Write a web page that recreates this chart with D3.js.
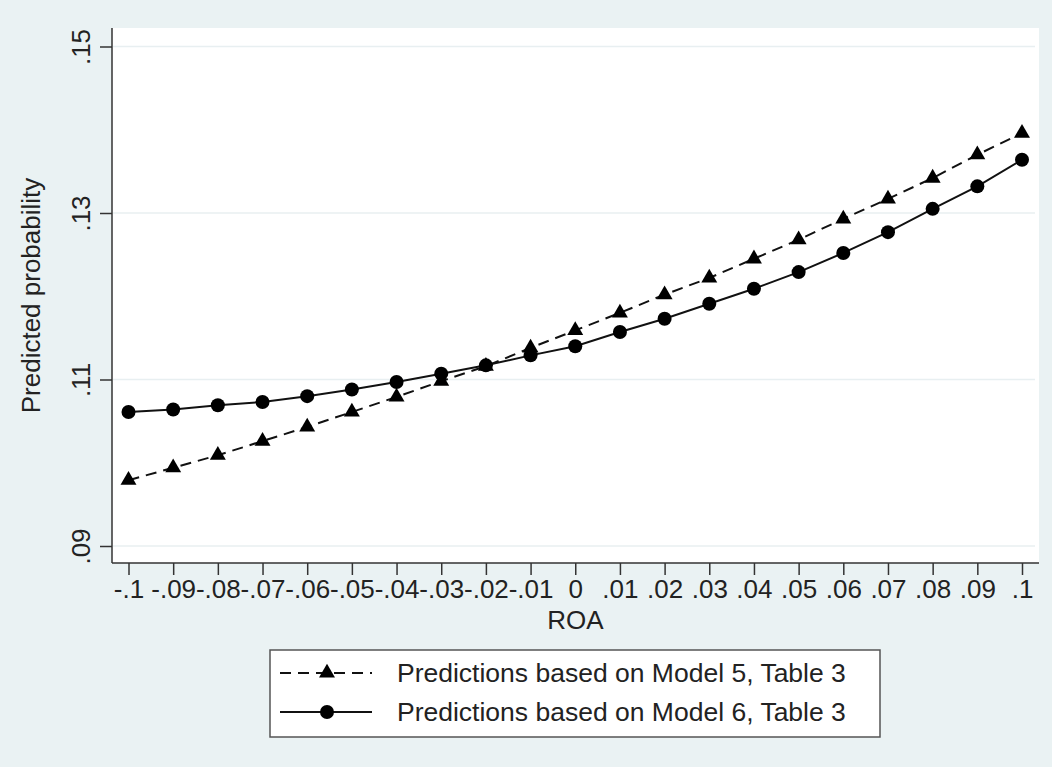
<!DOCTYPE html>
<html>
<head>
<meta charset="utf-8">
<script src="https://cdn.jsdelivr.net/npm/d3@7"></script>
<style>
  body { margin: 0; background: #eaf2f3; }
  svg { display: block; font-family: "Liberation Sans", Arial, sans-serif; }
</style>
</head>
<body>
<svg class="chart"></svg>
<script>
// ROA values on the x axis
const roa = [-0.1, -0.09, -0.08, -0.07, -0.06, -0.05, -0.04, -0.03, -0.02, -0.01,
             0, 0.01, 0.02, 0.03, 0.04, 0.05, 0.06, 0.07, 0.08, 0.09, 0.1];
const xTickLabels = ["-.1", "-.09", "-.08", "-.07", "-.06", "-.05", "-.04", "-.03", "-.02", "-.01",
                     "0", ".01", ".02", ".03", ".04", ".05", ".06", ".07", ".08", ".09", ".1"];

// predicted probabilities
const model5 = [0.0979, 0.0994, 0.1009, 0.1026, 0.1043, 0.1061, 0.1079, 0.1098, 0.1116, 0.1138,
                0.1159, 0.1180, 0.1202, 0.1222, 0.1245, 0.1268, 0.1293, 0.1317, 0.1342, 0.1370, 0.1396];
const model6 = [0.1061, 0.1064, 0.1069, 0.1073, 0.1080, 0.1088, 0.1097, 0.1107, 0.1117, 0.1129,
                0.1140, 0.1157, 0.1173, 0.1191, 0.1209, 0.1229, 0.1252, 0.1277, 0.1305, 0.1332, 0.1364];

const yTicks = [0.09, 0.11, 0.13, 0.15];
const yTickLabels = [".09", ".11", ".13", ".15"];

const legendLabels = ["Predictions based on Model 5, Table 3", "Predictions based on Model 6, Table 3"];

const W = 1052, H = 767;
const plot = {left: 112, right: 1039, top: 28, bottom: 563};
const fontSize = "26px";

const svg = d3.select(".chart").attr("width", W).attr("height", H);

svg.append("rect").attr("width", W).attr("height", H).attr("fill", "#eaf2f3");
svg.append("rect")
    .attr("x", plot.left).attr("y", plot.top)
    .attr("width", plot.right - plot.left).attr("height", plot.bottom - plot.top)
    .attr("fill", "#ffffff");

const x = d3.scaleLinear().domain([-0.1, 0.1]).range([128.5, 1022]);
const y = d3.scaleLinear().domain([0.09, 0.15]).range([546, 46.5]);

// gridlines
svg.append("g")
    .selectAll("line")
    .data(yTicks)
    .enter().append("line")
    .attr("x1", plot.left + 1).attr("x2", plot.right - 4)
    .attr("y1", (d) => y(d)).attr("y2", (d) => y(d))
    .style("stroke", "#e8eff1")
    .style("stroke-width", 1.5);

// y axis
const yAxis = svg.append("g")
    .attr("transform", `translate(${plot.left},0)`)
    .call(d3.axisLeft(y).tickValues(yTicks).tickSize(12).tickSizeOuter(0)
        .tickFormat((d, i) => yTickLabels[i]));
yAxis.select(".domain").attr("d", `M0,${plot.top}V${plot.bottom}`);
yAxis.selectAll("text")
    .attr("transform", "rotate(-90)")
    .attr("x", 0).attr("y", -22)
    .attr("dy", 0)
    .style("text-anchor", "middle")
    .style("font-size", fontSize)
    .style("font-family", "Liberation Sans, Arial, sans-serif")
    .style("fill", "#222");

// x axis
const xAxis = svg.append("g")
    .attr("transform", `translate(0,${plot.bottom})`)
    .call(d3.axisBottom(x).tickValues(roa).tickSize(12).tickSizeOuter(0)
        .tickFormat((d, i) => xTickLabels[i]));
xAxis.select(".domain").attr("d", `M${plot.left},0H${plot.right}`);
xAxis.selectAll("text")
    .attr("y", 35).attr("dy", 0)
    .style("font-size", fontSize)
    .style("font-family", "Liberation Sans, Arial, sans-serif")
    .style("fill", "#222");

svg.selectAll(".domain, .tick line").style("stroke", "#333").style("stroke-width", 1.5);

// axis titles
svg.append("text")
    .attr("x", (plot.left + plot.right) / 2).attr("y", 629)
    .attr("text-anchor", "middle")
    .style("font-size", fontSize).style("fill", "#222")
    .text("ROA");

svg.append("text")
    .attr("transform", `translate(40,${(plot.top + plot.bottom) / 2}) rotate(-90)`)
    .attr("text-anchor", "middle")
    .style("font-size", fontSize).style("fill", "#222")
    .text("Predicted probability");

// lines and markers
const line = (vals) => d3.line().x((d, i) => x(roa[i])).y((d) => y(d))(vals);

svg.append("path")
    .attr("d", line(model5))
    .style("fill", "none").style("stroke", "#111").style("stroke-width", 2)
    .style("stroke-dasharray", "11,7");

svg.append("path")
    .attr("d", line(model6))
    .style("fill", "none").style("stroke", "#111").style("stroke-width", 2);

const tri = d3.symbol().type(d3.symbolTriangle).size(110);

svg.selectAll(".tri")
    .data(model5)
    .enter().append("path")
    .attr("class", "tri")
    .attr("d", tri)
    .attr("transform", (d, i) => `translate(${x(roa[i])},${y(d)})`)
    .style("fill", "#000");

svg.selectAll(".dot")
    .data(model6)
    .enter().append("circle")
    .attr("class", "dot")
    .attr("cx", (d, i) => x(roa[i]))
    .attr("cy", (d) => y(d))
    .attr("r", 7)
    .style("fill", "#000");

// legend
const lg = svg.append("g");
lg.append("rect")
    .attr("x", 270).attr("y", 650).attr("width", 610).attr("height", 87)
    .style("fill", "#fff").style("stroke", "#555").style("stroke-width", 1.5);

const rows = [673, 712];
rows.forEach((ry, i) => {
    lg.append("line")
        .attr("x1", 280).attr("x2", 372).attr("y1", ry).attr("y2", ry)
        .style("stroke", "#111").style("stroke-width", 2)
        .style("stroke-dasharray", i === 0 ? "11,7" : null);
    if (i === 0) {
        lg.append("path").attr("d", tri).attr("transform", `translate(327,${ry})`).style("fill", "#000");
    } else {
        lg.append("circle").attr("cx", 327).attr("cy", ry).attr("r", 7).style("fill", "#000");
    }
    lg.append("text")
        .attr("x", 397).attr("y", ry + 9)
        .style("font-size", "26.5px").style("fill", "#222")
        .text(legendLabels[i]);
});
</script>
</body>
</html>
